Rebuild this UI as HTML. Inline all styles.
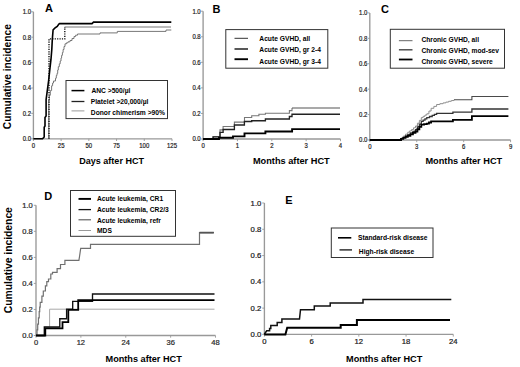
<!DOCTYPE html>
<html><head><meta charset="utf-8"><style>
html,body{margin:0;padding:0;background:#fff;width:520px;height:367px;overflow:hidden}
svg{display:block;font-family:"Liberation Sans", sans-serif}
</style></head><body>
<svg width="520" height="367" viewBox="0 0 520 367">
<rect width="520" height="367" fill="#fff"/>
<path d="M33.4,11.8 V138.8 H172" stroke="#999" stroke-width="1.35" fill="none"/>
<path d="M31.2,138.8 H33.4" stroke="#999" stroke-width="0.9"/>
<text x="0" y="0" font-size="6.8" text-anchor="end" fill="#1a1a1a" font-weight="normal" stroke="#1a1a1a" stroke-width="0.2" transform="translate(31,141.2) scale(0.88,1)">0.0</text>
<path d="M31.2,113.4 H33.4" stroke="#999" stroke-width="0.9"/>
<text x="0" y="0" font-size="6.8" text-anchor="end" fill="#1a1a1a" font-weight="normal" stroke="#1a1a1a" stroke-width="0.2" transform="translate(31,115.8) scale(0.88,1)">0.2</text>
<path d="M31.2,88 H33.4" stroke="#999" stroke-width="0.9"/>
<text x="0" y="0" font-size="6.8" text-anchor="end" fill="#1a1a1a" font-weight="normal" stroke="#1a1a1a" stroke-width="0.2" transform="translate(31,90.4) scale(0.88,1)">0.4</text>
<path d="M31.2,62.6 H33.4" stroke="#999" stroke-width="0.9"/>
<text x="0" y="0" font-size="6.8" text-anchor="end" fill="#1a1a1a" font-weight="normal" stroke="#1a1a1a" stroke-width="0.2" transform="translate(31,65) scale(0.88,1)">0.6</text>
<path d="M31.2,37.2 H33.4" stroke="#999" stroke-width="0.9"/>
<text x="0" y="0" font-size="6.8" text-anchor="end" fill="#1a1a1a" font-weight="normal" stroke="#1a1a1a" stroke-width="0.2" transform="translate(31,39.6) scale(0.88,1)">0.8</text>
<path d="M31.2,11.8 H33.4" stroke="#999" stroke-width="0.9"/>
<text x="0" y="0" font-size="6.8" text-anchor="end" fill="#1a1a1a" font-weight="normal" stroke="#1a1a1a" stroke-width="0.2" transform="translate(31,14.2) scale(0.88,1)">1.0</text>
<path d="M33.4,138.8 V141.0" stroke="#999" stroke-width="0.9"/>
<text x="0" y="0" font-size="6.8" text-anchor="middle" fill="#1a1a1a" font-weight="normal" stroke="#1a1a1a" stroke-width="0.2" transform="translate(33.4,147.6) scale(0.88,1)">0</text>
<path d="M61.12,138.8 V141.0" stroke="#999" stroke-width="0.9"/>
<text x="0" y="0" font-size="6.8" text-anchor="middle" fill="#1a1a1a" font-weight="normal" stroke="#1a1a1a" stroke-width="0.2" transform="translate(61.12,147.6) scale(0.88,1)">25</text>
<path d="M88.84,138.8 V141.0" stroke="#999" stroke-width="0.9"/>
<text x="0" y="0" font-size="6.8" text-anchor="middle" fill="#1a1a1a" font-weight="normal" stroke="#1a1a1a" stroke-width="0.2" transform="translate(88.84,147.6) scale(0.88,1)">50</text>
<path d="M116.56,138.8 V141.0" stroke="#999" stroke-width="0.9"/>
<text x="0" y="0" font-size="6.8" text-anchor="middle" fill="#1a1a1a" font-weight="normal" stroke="#1a1a1a" stroke-width="0.2" transform="translate(116.56,147.6) scale(0.88,1)">75</text>
<path d="M144.28,138.8 V141.0" stroke="#999" stroke-width="0.9"/>
<text x="0" y="0" font-size="6.8" text-anchor="middle" fill="#1a1a1a" font-weight="normal" stroke="#1a1a1a" stroke-width="0.2" transform="translate(144.28,147.6) scale(0.88,1)">100</text>
<path d="M172,138.8 V141.0" stroke="#999" stroke-width="0.9"/>
<text x="0" y="0" font-size="6.8" text-anchor="middle" fill="#1a1a1a" font-weight="normal" stroke="#1a1a1a" stroke-width="0.2" transform="translate(172,147.6) scale(0.88,1)">125</text>
<text x="45" y="11.8" font-size="11" text-anchor="start" font-weight="bold" fill="#000" >A</text>
<path d="M48.8,138.8 V100 H49.3 V95.3 H50.3 V90.6 H51.6 V85.8 H52.6 V83 H53.5 V81 H55.5 V78.2 H56.3 V75.5 H57 V73.4 H57.7 V70 H58.3 V66.7 H59.3 V63.8 H60.2 V61 H61 V58 H61.6 V55.3 H62.4 V52.5 H63.1 V49.5 H64 V46.5 H65 V43.8 H66.5 V42.8 H68 V41.8 H70 V40.5 H72 V38.5 H74 V36.5 H75.6 V35.2 H77.5 V34 H100 V32.9 H117.3 V31.4 H166 V30 H171.3" stroke="#777" stroke-width="1" fill="none" />
<path d="M64.6,27 H171" stroke="#a4a4a4" stroke-width="1.4" fill="none" />
<path d="M49,138.8 V38.9 H64.8 V27" stroke="#111" stroke-width="1.4" fill="none" stroke-dasharray="1.2,1.2"/>
<path d="M33.4,138.8 H42.5 L44.2,137 V127.3 L45,126 V117.5 L46.1,116 V99.6 L47.4,89.8 L48.7,80 L50,68 L51,59.2 L51.8,49.4 L52.3,39.6 L53.1,29.8 L54.8,28.2 L57.2,26.5 L58.9,24.1 L59.6,23.6 H92 L93.5,22.1 H171.3" stroke="#000" stroke-width="1.6" fill="none" />
<rect x="66" y="80.5" width="101.5" height="38.1" fill="#fff" stroke="#333" stroke-width="1"/>
<path d="M71.5,90.6 H84.4" stroke="#000" stroke-width="1.5"/>
<text x="91.4" y="93.3" font-size="6.7" font-weight="bold" fill="#000">ANC &gt;500/µl</text>
<path d="M71.5,101.5 H84.4" stroke="#222" stroke-width="1.3"/>
<text x="90.8" y="104" font-size="6.7" font-weight="bold" fill="#000">Platelet &gt;20,000/µl</text>
<path d="M71.5,110.9 H84.4" stroke="#999" stroke-width="1"/>
<text x="90.8" y="114.9" font-size="6.7" font-weight="bold" fill="#000">Donor chimerism &gt;90%</text>
<text x="0" y="0" font-size="9.4" text-anchor="middle" font-weight="bold" fill="#000" transform="translate(111.6,163.8) scale(0.96,1)">Days after HCT</text>
<text x="0" y="0" font-size="10.7" font-weight="bold" text-anchor="middle" transform="translate(11.2,76.65) rotate(-90) scale(0.955,1)">Cumulative incidence</text>
<path d="M203.1,11.2 V139.0 H340.5" stroke="#999" stroke-width="1.35" fill="none"/>
<path d="M200.9,139 H203.1" stroke="#999" stroke-width="0.9"/>
<text x="0" y="0" font-size="6.8" text-anchor="end" fill="#1a1a1a" font-weight="normal" stroke="#1a1a1a" stroke-width="0.2" transform="translate(200.7,141.4) scale(0.88,1)">0.0</text>
<path d="M200.9,113.44 H203.1" stroke="#999" stroke-width="0.9"/>
<text x="0" y="0" font-size="6.8" text-anchor="end" fill="#1a1a1a" font-weight="normal" stroke="#1a1a1a" stroke-width="0.2" transform="translate(200.7,115.84) scale(0.88,1)">0.2</text>
<path d="M200.9,87.88 H203.1" stroke="#999" stroke-width="0.9"/>
<text x="0" y="0" font-size="6.8" text-anchor="end" fill="#1a1a1a" font-weight="normal" stroke="#1a1a1a" stroke-width="0.2" transform="translate(200.7,90.28) scale(0.88,1)">0.4</text>
<path d="M200.9,62.32 H203.1" stroke="#999" stroke-width="0.9"/>
<text x="0" y="0" font-size="6.8" text-anchor="end" fill="#1a1a1a" font-weight="normal" stroke="#1a1a1a" stroke-width="0.2" transform="translate(200.7,64.72) scale(0.88,1)">0.6</text>
<path d="M200.9,36.76 H203.1" stroke="#999" stroke-width="0.9"/>
<text x="0" y="0" font-size="6.8" text-anchor="end" fill="#1a1a1a" font-weight="normal" stroke="#1a1a1a" stroke-width="0.2" transform="translate(200.7,39.16) scale(0.88,1)">0.8</text>
<path d="M200.9,11.2 H203.1" stroke="#999" stroke-width="0.9"/>
<text x="0" y="0" font-size="6.8" text-anchor="end" fill="#1a1a1a" font-weight="normal" stroke="#1a1a1a" stroke-width="0.2" transform="translate(200.7,13.6) scale(0.88,1)">1.0</text>
<path d="M203.1,139.0 V141.2" stroke="#999" stroke-width="0.9"/>
<text x="0" y="0" font-size="6.8" text-anchor="middle" fill="#1a1a1a" font-weight="normal" stroke="#1a1a1a" stroke-width="0.2" transform="translate(203.1,147.8) scale(0.88,1)">0</text>
<path d="M237.45,139.0 V141.2" stroke="#999" stroke-width="0.9"/>
<text x="0" y="0" font-size="6.8" text-anchor="middle" fill="#1a1a1a" font-weight="normal" stroke="#1a1a1a" stroke-width="0.2" transform="translate(237.45,147.8) scale(0.88,1)">1</text>
<path d="M271.8,139.0 V141.2" stroke="#999" stroke-width="0.9"/>
<text x="0" y="0" font-size="6.8" text-anchor="middle" fill="#1a1a1a" font-weight="normal" stroke="#1a1a1a" stroke-width="0.2" transform="translate(271.8,147.8) scale(0.88,1)">2</text>
<path d="M306.15,139.0 V141.2" stroke="#999" stroke-width="0.9"/>
<text x="0" y="0" font-size="6.8" text-anchor="middle" fill="#1a1a1a" font-weight="normal" stroke="#1a1a1a" stroke-width="0.2" transform="translate(306.15,147.8) scale(0.88,1)">3</text>
<path d="M340.5,139.0 V141.2" stroke="#999" stroke-width="0.9"/>
<text x="0" y="0" font-size="6.8" text-anchor="middle" fill="#1a1a1a" font-weight="normal" stroke="#1a1a1a" stroke-width="0.2" transform="translate(340.5,147.8) scale(0.88,1)">4</text>
<text x="212.5" y="12.5" font-size="11" text-anchor="start" font-weight="bold" fill="#000" >B</text>
<g transform="translate(0,0.5)">
<path d="M203.1,138.5 H213.1 V136.3 H220 V129.4 H223.1 V126 H234.4 V121.6 H244.5 V117 H251.7 V115.2 H258.9 V113.7 H265.4 V112.7 H289.4 V110.1 H292 V107.5" stroke="#777" stroke-width="1.1" fill="none" />
<path d="M292,107.5 H340" stroke="#555" stroke-width="1.1" fill="none" />
<path d="M203.1,138.5 H213.1 V136.3 H220 V131.9 H223.1 V129 H234.4 V124.5 H244.4 V121 H251.7 V120.2 H265.4 V118.5 H289.4 V116 H292 V113.7 H340" stroke="#222" stroke-width="1.35" fill="none" />
<path d="M203.1,138.5 H219 V137.3 H233 V135.9 H244.5 V132.9 H265.4 V131 H292.1 V128.6 H340" stroke="#000" stroke-width="1.9" fill="none" />
</g>
<rect x="225.8" y="29.6" width="102" height="38.6" fill="#fff" stroke="#333" stroke-width="1"/>
<path d="M234.5,38.3 H248" stroke="#333" stroke-width="1"/>
<text x="259.3" y="40.7" font-size="6.7" font-weight="bold" fill="#000">Acute GVHD, all</text>
<path d="M234.5,49.0 H248" stroke="#111" stroke-width="1.4"/>
<text x="259.3" y="52.4" font-size="6.7" font-weight="bold" fill="#000">Acute GVHD, gr 2-4</text>
<path d="M234.5,59.2 H248" stroke="#000" stroke-width="1.9"/>
<text x="259.3" y="63.8" font-size="6.7" font-weight="bold" fill="#000">Acute GVHD, gr 3-4</text>
<text x="0" y="0" font-size="9.4" text-anchor="middle" font-weight="bold" fill="#000" transform="translate(291.3,163.7) scale(0.98,1)">Months after HCT</text>
<path d="M369.8,12.9 V140.0 H510.6" stroke="#999" stroke-width="1.35" fill="none"/>
<path d="M367.6,140 H369.8" stroke="#999" stroke-width="0.9"/>
<text x="0" y="0" font-size="6.8" text-anchor="end" fill="#1a1a1a" font-weight="normal" stroke="#1a1a1a" stroke-width="0.2" transform="translate(367.4,142.4) scale(0.88,1)">0.0</text>
<path d="M367.6,114.58 H369.8" stroke="#999" stroke-width="0.9"/>
<text x="0" y="0" font-size="6.8" text-anchor="end" fill="#1a1a1a" font-weight="normal" stroke="#1a1a1a" stroke-width="0.2" transform="translate(367.4,116.98) scale(0.88,1)">0.2</text>
<path d="M367.6,89.16 H369.8" stroke="#999" stroke-width="0.9"/>
<text x="0" y="0" font-size="6.8" text-anchor="end" fill="#1a1a1a" font-weight="normal" stroke="#1a1a1a" stroke-width="0.2" transform="translate(367.4,91.56) scale(0.88,1)">0.4</text>
<path d="M367.6,63.74 H369.8" stroke="#999" stroke-width="0.9"/>
<text x="0" y="0" font-size="6.8" text-anchor="end" fill="#1a1a1a" font-weight="normal" stroke="#1a1a1a" stroke-width="0.2" transform="translate(367.4,66.14) scale(0.88,1)">0.6</text>
<path d="M367.6,38.32 H369.8" stroke="#999" stroke-width="0.9"/>
<text x="0" y="0" font-size="6.8" text-anchor="end" fill="#1a1a1a" font-weight="normal" stroke="#1a1a1a" stroke-width="0.2" transform="translate(367.4,40.72) scale(0.88,1)">0.8</text>
<path d="M367.6,12.9 H369.8" stroke="#999" stroke-width="0.9"/>
<text x="0" y="0" font-size="6.8" text-anchor="end" fill="#1a1a1a" font-weight="normal" stroke="#1a1a1a" stroke-width="0.2" transform="translate(367.4,15.3) scale(0.88,1)">1.0</text>
<path d="M369.8,140.0 V142.2" stroke="#999" stroke-width="0.9"/>
<text x="0" y="0" font-size="6.8" text-anchor="middle" fill="#1a1a1a" font-weight="normal" stroke="#1a1a1a" stroke-width="0.2" transform="translate(369.8,148.8) scale(0.88,1)">0</text>
<path d="M416.73,140.0 V142.2" stroke="#999" stroke-width="0.9"/>
<text x="0" y="0" font-size="6.8" text-anchor="middle" fill="#1a1a1a" font-weight="normal" stroke="#1a1a1a" stroke-width="0.2" transform="translate(416.73,148.8) scale(0.88,1)">3</text>
<path d="M463.66,140.0 V142.2" stroke="#999" stroke-width="0.9"/>
<text x="0" y="0" font-size="6.8" text-anchor="middle" fill="#1a1a1a" font-weight="normal" stroke="#1a1a1a" stroke-width="0.2" transform="translate(463.66,148.8) scale(0.88,1)">6</text>
<path d="M510.59,140.0 V142.2" stroke="#999" stroke-width="0.9"/>
<text x="0" y="0" font-size="6.8" text-anchor="middle" fill="#1a1a1a" font-weight="normal" stroke="#1a1a1a" stroke-width="0.2" transform="translate(510.59,148.8) scale(0.88,1)">9</text>
<text x="381" y="12.6" font-size="11" text-anchor="start" font-weight="bold" fill="#000" >C</text>
<path d="M369.8,140 H398.8 H401.05 V138.05 H403.3 V136.1 H405.55 V134.15 H407.8 V132.2 H409.65 V130.9 H411.5 V129.6 H413.5 V127.8 H415.5 V126 H417.43 V123.2 H419.37 V120.4 H421.3 V117.6 H423.13 V116.33 H424.97 V115.07 H426.8 V113.8 H428.95 V111.05 H431.1 V108.3 H433.85 V106.4 H436.6 V104.5 H439.85 V103.7 H443.1 V102.9 H445.85 V102.1 H448.6 V101.3 H451.3 V100.55 H454 V99.8" stroke="#8e8e8e" stroke-width="1" fill="none" />
<path d="M454,99.8 H471.9 V96.5 H508.4" stroke="#4a4a4a" stroke-width="1.1" fill="none" />
<path d="M369.8,140 H398.8 H401.05 V138.68 H403.3 V137.35 H405.55 V136.02 H407.8 V134.7 H410.37 V133 H412.93 V131.3 H415.5 V129.6 H417.43 V126.87 H419.37 V124.13 H421.3 V121.4 H423.13 V120.13 H424.97 V118.87 H426.8 V117.6 H429.5 V116.5 H432.2 V115.4 H434.4 V114.4 H436.6 V113.4 H452.9 V112.2 H471.9 V109 H508.4" stroke="#333" stroke-width="1.3" fill="none" />
<path d="M369.8,140 H398.8 H401.05 V138.95 H403.3 V137.9 H405.55 V136.85 H407.8 V135.8 H410.37 V134.37 H412.93 V132.93 H415.5 V131.5 H417.43 V129.23 H419.37 V126.97 H421.3 V124.7 H424.05 V124.15 H426.8 V123.6 H428.95 V122.5 H431.1 V121.4 H452.9 V119.8 H471.9 V116.2 H508.4" stroke="#000" stroke-width="1.8" fill="none" />
<rect x="390.3" y="29.3" width="114.2" height="38.9" fill="#fff" stroke="#333" stroke-width="1"/>
<path d="M398.9,40.7 H412.5" stroke="#666" stroke-width="1"/>
<text x="421.4" y="41.7" font-size="6.7" font-weight="bold" fill="#000">Chronic GVHD, all</text>
<path d="M398.9,49.8 H412.5" stroke="#444" stroke-width="1.4"/>
<text x="421.4" y="52.8" font-size="6.7" font-weight="bold" fill="#000">Chronic GVHD, mod-sev</text>
<path d="M398.9,59.5 H412.5" stroke="#000" stroke-width="1.8"/>
<text x="421.4" y="64.4" font-size="6.7" font-weight="bold" fill="#000">Chronic GVHD, severe</text>
<text x="0" y="0" font-size="9.4" text-anchor="middle" font-weight="bold" fill="#000" transform="translate(463.8,163.9) scale(0.98,1)">Months after HCT</text>
<path d="M36,205.3 V335.5 H215.5" stroke="#999" stroke-width="1.35" fill="none"/>
<path d="M33.8,335.5 H36" stroke="#999" stroke-width="0.9"/>
<text x="0" y="0" font-size="6.4" text-anchor="end" fill="#2a2a2a" font-weight="normal" stroke="#2a2a2a" stroke-width="0.2" transform="translate(32.8,337.8) scale(1.18,1)">0.0</text>
<path d="M33.8,309.46 H36" stroke="#999" stroke-width="0.9"/>
<text x="0" y="0" font-size="6.4" text-anchor="end" fill="#2a2a2a" font-weight="normal" stroke="#2a2a2a" stroke-width="0.2" transform="translate(32.8,311.76) scale(1.18,1)">0.2</text>
<path d="M33.8,283.42 H36" stroke="#999" stroke-width="0.9"/>
<text x="0" y="0" font-size="6.4" text-anchor="end" fill="#2a2a2a" font-weight="normal" stroke="#2a2a2a" stroke-width="0.2" transform="translate(32.8,285.72) scale(1.18,1)">0.4</text>
<path d="M33.8,257.38 H36" stroke="#999" stroke-width="0.9"/>
<text x="0" y="0" font-size="6.4" text-anchor="end" fill="#2a2a2a" font-weight="normal" stroke="#2a2a2a" stroke-width="0.2" transform="translate(32.8,259.68) scale(1.18,1)">0.6</text>
<path d="M33.8,231.34 H36" stroke="#999" stroke-width="0.9"/>
<text x="0" y="0" font-size="6.4" text-anchor="end" fill="#2a2a2a" font-weight="normal" stroke="#2a2a2a" stroke-width="0.2" transform="translate(32.8,233.64) scale(1.18,1)">0.8</text>
<path d="M33.8,205.3 H36" stroke="#999" stroke-width="0.9"/>
<text x="0" y="0" font-size="6.4" text-anchor="end" fill="#2a2a2a" font-weight="normal" stroke="#2a2a2a" stroke-width="0.2" transform="translate(32.8,207.6) scale(1.18,1)">1.0</text>
<path d="M36,335.5 V337.7" stroke="#999" stroke-width="0.9"/>
<text x="0" y="0" font-size="6.4" text-anchor="middle" fill="#2a2a2a" font-weight="normal" stroke="#2a2a2a" stroke-width="0.2" transform="translate(36,344.5) scale(1.18,1)">0</text>
<path d="M80.88,335.5 V337.7" stroke="#999" stroke-width="0.9"/>
<text x="0" y="0" font-size="6.4" text-anchor="middle" fill="#2a2a2a" font-weight="normal" stroke="#2a2a2a" stroke-width="0.2" transform="translate(80.88,344.5) scale(1.18,1)">12</text>
<path d="M125.76,335.5 V337.7" stroke="#999" stroke-width="0.9"/>
<text x="0" y="0" font-size="6.4" text-anchor="middle" fill="#2a2a2a" font-weight="normal" stroke="#2a2a2a" stroke-width="0.2" transform="translate(125.76,344.5) scale(1.18,1)">24</text>
<path d="M170.64,335.5 V337.7" stroke="#999" stroke-width="0.9"/>
<text x="0" y="0" font-size="6.4" text-anchor="middle" fill="#2a2a2a" font-weight="normal" stroke="#2a2a2a" stroke-width="0.2" transform="translate(170.64,344.5) scale(1.18,1)">36</text>
<path d="M215.52,335.5 V337.7" stroke="#999" stroke-width="0.9"/>
<text x="0" y="0" font-size="6.4" text-anchor="middle" fill="#2a2a2a" font-weight="normal" stroke="#2a2a2a" stroke-width="0.2" transform="translate(215.52,344.5) scale(1.18,1)">48</text>
<text x="44.2" y="199.7" font-size="11" text-anchor="start" font-weight="bold" fill="#000" >D</text>
<path d="M36,335.5 H44.5 V327 H49.6 V309.2 H214.5" stroke="#a8a8a8" stroke-width="1" fill="none" />
<path d="M36.3,335.5 H37 V329.8 H37.7 V324.1 H38.45 V317.9 H39.2 V311.7 H39.7 V307.05 H40.2 V302.4 H41.9 V296.2 H43.3 V291 H45.4 V285.8 H46.8 V281.7 H48.5 V279 H50.8 V274 H52.5 V272.4 H57.1 V268.6 H60.5 V264.5 H64.9 V260.4 H78.9 L79.6,256 L80.7,248.4 H90.5 V244.4 H199.5 V232.5 H214" stroke="#707070" stroke-width="1.2" fill="none" />
<path d="M199.5,232.7 H213.8" stroke="#555" stroke-width="1.9" fill="none" />
<path d="M36,335.5 H44.3 V327 H59.8 V318.7 H66.6 V309.1 H72.7 V301.3 H92.5 V294 H214.5" stroke="#111" stroke-width="1.35" fill="none" />
<path d="M36,335.5 H45.3 V328.4 H62.5 V322.1 H68.3 V309.8 H78.2 V300.2 H214.5" stroke="#000" stroke-width="1.8" fill="none" />
<rect x="70.5" y="190.5" width="105" height="45.8" fill="#fff" stroke="#333" stroke-width="1"/>
<path d="M78.5,198.9 H91" stroke="#000" stroke-width="1.9"/>
<text x="97" y="200.7" font-size="6.7" font-weight="bold" fill="#000">Acute leukemia, CR1</text>
<path d="M78.5,209.6 H91" stroke="#111" stroke-width="1.3"/>
<text x="97" y="211.5" font-size="6.7" font-weight="bold" fill="#000">Acute leukemia, CR2/3</text>
<path d="M78.5,219.8 H91" stroke="#555" stroke-width="1.1"/>
<text x="97" y="223" font-size="6.7" font-weight="bold" fill="#000">Acute leukemia, refr</text>
<path d="M78.5,230.5 H91" stroke="#999" stroke-width="1"/>
<text x="97" y="233.1" font-size="6.7" font-weight="bold" fill="#000">MDS</text>
<text x="0" y="0" font-size="9.4" text-anchor="middle" font-weight="bold" fill="#000" transform="translate(143.65,362.1) scale(0.975,1)">Months after HCT</text>
<text x="0" y="0" font-size="10.7" font-weight="bold" text-anchor="middle" transform="translate(11.9,260.15) rotate(-90) scale(0.965,1)">Cumulative incidence</text>
<path d="M264.4,203 V334.4 H453.3" stroke="#999" stroke-width="1.35" fill="none"/>
<path d="M262.2,334.4 H264.4" stroke="#999" stroke-width="0.9"/>
<text x="0" y="0" font-size="7" text-anchor="end" fill="#1a1a1a" font-weight="normal" stroke="#1a1a1a" stroke-width="0.2" transform="translate(261.3,336.9) scale(1.1,1)">0.0</text>
<path d="M262.2,308.12 H264.4" stroke="#999" stroke-width="0.9"/>
<text x="0" y="0" font-size="7" text-anchor="end" fill="#1a1a1a" font-weight="normal" stroke="#1a1a1a" stroke-width="0.2" transform="translate(261.3,310.62) scale(1.1,1)">0.2</text>
<path d="M262.2,281.84 H264.4" stroke="#999" stroke-width="0.9"/>
<text x="0" y="0" font-size="7" text-anchor="end" fill="#1a1a1a" font-weight="normal" stroke="#1a1a1a" stroke-width="0.2" transform="translate(261.3,284.34) scale(1.1,1)">0.4</text>
<path d="M262.2,255.56 H264.4" stroke="#999" stroke-width="0.9"/>
<text x="0" y="0" font-size="7" text-anchor="end" fill="#1a1a1a" font-weight="normal" stroke="#1a1a1a" stroke-width="0.2" transform="translate(261.3,258.06) scale(1.1,1)">0.6</text>
<path d="M262.2,229.28 H264.4" stroke="#999" stroke-width="0.9"/>
<text x="0" y="0" font-size="7" text-anchor="end" fill="#1a1a1a" font-weight="normal" stroke="#1a1a1a" stroke-width="0.2" transform="translate(261.3,231.78) scale(1.1,1)">0.8</text>
<path d="M262.2,203 H264.4" stroke="#999" stroke-width="0.9"/>
<text x="0" y="0" font-size="7" text-anchor="end" fill="#1a1a1a" font-weight="normal" stroke="#1a1a1a" stroke-width="0.2" transform="translate(261.3,205.5) scale(1.1,1)">1.0</text>
<path d="M264.4,334.4 V336.59999999999997" stroke="#999" stroke-width="0.9"/>
<text x="0" y="0" font-size="7" text-anchor="middle" fill="#1a1a1a" font-weight="normal" stroke="#1a1a1a" stroke-width="0.2" transform="translate(264.4,344.0) scale(1.1,1)">0</text>
<path d="M311.62,334.4 V336.59999999999997" stroke="#999" stroke-width="0.9"/>
<text x="0" y="0" font-size="7" text-anchor="middle" fill="#1a1a1a" font-weight="normal" stroke="#1a1a1a" stroke-width="0.2" transform="translate(311.62,344.0) scale(1.1,1)">6</text>
<path d="M358.84,334.4 V336.59999999999997" stroke="#999" stroke-width="0.9"/>
<text x="0" y="0" font-size="7" text-anchor="middle" fill="#1a1a1a" font-weight="normal" stroke="#1a1a1a" stroke-width="0.2" transform="translate(358.84,344.0) scale(1.1,1)">12</text>
<path d="M406.06,334.4 V336.59999999999997" stroke="#999" stroke-width="0.9"/>
<text x="0" y="0" font-size="7" text-anchor="middle" fill="#1a1a1a" font-weight="normal" stroke="#1a1a1a" stroke-width="0.2" transform="translate(406.06,344.0) scale(1.1,1)">18</text>
<path d="M453.28,334.4 V336.59999999999997" stroke="#999" stroke-width="0.9"/>
<text x="0" y="0" font-size="7" text-anchor="middle" fill="#1a1a1a" font-weight="normal" stroke="#1a1a1a" stroke-width="0.2" transform="translate(453.28,344.0) scale(1.1,1)">24</text>
<text x="285.2" y="203.9" font-size="11" text-anchor="start" font-weight="bold" fill="#000" >E</text>
<path d="M264.3,334.4 L265.5,332.5 L266.7,330.8 H269.6 V328.4 H270.8 V325.5 H277.2 V322.5 H281.9 V319 H299.5 L300.5,309.7 H314.3 V306 H330.2 V302.9 H363 V299.6 H451.3" stroke="#111" stroke-width="1.5" fill="none" />
<path d="M264.3,334.4 H285.4 L287.2,327.8 H340.7 V325 H356.9 V320.1 H450" stroke="#000" stroke-width="2.0" fill="none" />
<rect x="331.3" y="228" width="101.7" height="29.5" fill="#fff" stroke="#333" stroke-width="1"/>
<path d="M338,237.8 H351.3" stroke="#000" stroke-width="1.6"/>
<text x="358" y="239.9" font-size="6.7" font-weight="bold" fill="#000">Standard-risk disease</text>
<path d="M339.5,249.9 H352" stroke="#222" stroke-width="1.4"/>
<text x="358.8" y="254" font-size="6.7" font-weight="bold" fill="#000">High-risk disease</text>
<text x="0" y="0" font-size="9.4" text-anchor="middle" font-weight="bold" fill="#000" transform="translate(384.15,361.9) scale(0.975,1)">Months after HCT</text>
</svg>
</body></html>
